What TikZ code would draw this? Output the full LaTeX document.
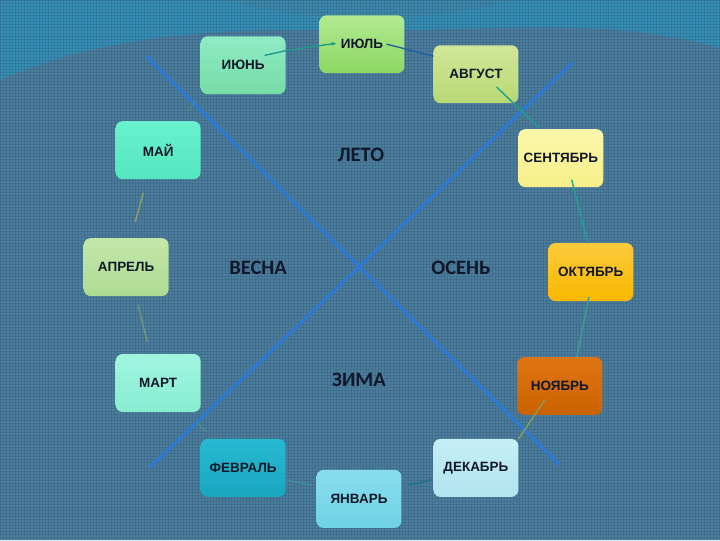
\documentclass[tikz,border=0pt]{standalone}
\usepackage{fontspec}
\newfontfamily\monthfont{Liberation Sans}
\newfontfamily\seasonfont{Carlito}
\usetikzlibrary{calc,arrows.meta}
\definecolor{bgblue}{HTML}{4B7D9E}
\definecolor{topband}{HTML}{2F93BD}
\definecolor{crossblue}{HTML}{2A7AD6}
\definecolor{textdark}{HTML}{10182A}
% month box colours (top / bottom)
\definecolor{junT}{HTML}{8FEBC6}\definecolor{junB}{HTML}{76DCA6}
\definecolor{julT}{HTML}{B2E992}\definecolor{julB}{HTML}{8CD862}
\definecolor{augT}{HTML}{D0E699}\definecolor{augB}{HTML}{B9D874}
\definecolor{sepT}{HTML}{FBF7AA}\definecolor{sepB}{HTML}{F7EE8A}
\definecolor{octT}{HTML}{FDCB3C}\definecolor{octB}{HTML}{F8B700}
\definecolor{novT}{HTML}{DF7412}\definecolor{novB}{HTML}{CB6200}
\definecolor{decT}{HTML}{C6EEF5}\definecolor{decB}{HTML}{B0E4EE}
\definecolor{janT}{HTML}{88DDED}\definecolor{janB}{HTML}{70D2E6}
\definecolor{febT}{HTML}{27B9D1}\definecolor{febB}{HTML}{19A7C0}
\definecolor{marT}{HTML}{A0F5DE}\definecolor{marB}{HTML}{88EDD1}
\definecolor{aprT}{HTML}{C3E7AA}\definecolor{aprB}{HTML}{AEDB93}
\definecolor{mayT}{HTML}{68F1CE}\definecolor{mayB}{HTML}{54E7BF}
% link colours
\definecolor{linkA}{HTML}{1F9C86}
\definecolor{linkB}{HTML}{2262A0}
\definecolor{linkC}{HTML}{1FA08A}
\definecolor{linkD}{HTML}{24A094}
\definecolor{linkE}{HTML}{3AA08E}
\definecolor{linkF}{HTML}{8A9A62}
\definecolor{linkG}{HTML}{1F6F8F}
\definecolor{linkH}{HTML}{3A9AA0}
\definecolor{linkI}{HTML}{4E9E7A}
\definecolor{linkJ}{HTML}{7AA070}
\definecolor{linkK}{HTML}{8EA060}
\definecolor{linkL}{HTML}{4EA080}
\begin{document}
\begin{tikzpicture}[x=1pt,y=-1pt,
    month/.style={rounded corners=7pt,minimum width=85pt,minimum height=58pt,inner sep=0pt,
        font=\monthfont\bfseries\fontsize{13.5}{15}\selectfont,text=textdark},
    season/.style={font=\seasonfont\bfseries\fontsize{20.5}{23}\selectfont,text=textdark},
    link/.style={line width=1.4pt,line cap=round},
    cross/.style={crossblue,line width=3pt}]

    % background
    \fill[bgblue] (0,0) rectangle (720,540);
    \fill[topband,opacity=0.75] (0,0) -- (720,0) -- (720,48) .. controls (610,14) and (470,32) .. (360,30)
        .. controls (240,28) and (110,30) .. (0,80) -- cycle;
    \fill[bgblue,opacity=0.35] (230,0) .. controls (300,24) and (430,24) .. (510,0) -- cycle;
    \foreach \x in {0,3,...,720}
        \draw[black,opacity=0.09,line width=0.6pt] (\x,0) -- (\x,540);
    \foreach \y in {0,3,...,540}
        \draw[black,opacity=0.09,line width=0.6pt] (0,\y) -- (720,\y);
    \useasboundingbox (0,0) rectangle (720,540);

    % the cross
    \draw[cross] (146,56) -- (560,465);
    \draw[cross] (573,62) -- (150,467);

    % months
    \node[month,top color=junT,bottom color=junB] (jun) at (243,65) {ИЮНЬ};
    \node[month,top color=julT,bottom color=julB] (jul) at (362,44) {ИЮЛЬ};
    \node[month,top color=augT,bottom color=augB] (aug) at (476,74) {АВГУСТ};
    \node[month,top color=sepT,bottom color=sepB] (sep) at (561,158) {СЕНТЯБРЬ};
    \node[month,top color=octT,bottom color=octB] (oct) at (591,272) {ОКТЯБРЬ};
    \node[month,top color=novT,bottom color=novB] (nov) at (560,386) {НОЯБРЬ};
    \node[month,top color=decT,bottom color=decB] (dec) at (476,468) {ДЕКАБРЬ};
    \node[month,top color=janT,bottom color=janB] (jan) at (359,499) {ЯНВАРЬ};
    \node[month,top color=febT,bottom color=febB] (feb) at (243,468) {ФЕВРАЛЬ};
    \node[month,top color=marT,bottom color=marB] (mar) at (158,383) {МАРТ};
    \node[month,top color=aprT,bottom color=aprB] (apr) at (126,267) {АПРЕЛЬ};
    \node[month,top color=mayT,bottom color=mayB] (may) at (158,150) {МАЙ};

    % seasons
    \node[season] (summer) at (361,155) {ЛЕТО};
    \node[season] (spring) at (258,268) {ВЕСНА};
    \node[season] (autumn) at (461,268) {ОСЕНЬ};
    \node[season] (winter) at (359,380) {ЗИМА};

    % links between months
    \draw[link,linkA,-{Stealth[length=5pt,width=4pt]}] ($(jun.center)+(22,-10)$) -- ($(jun.east)+(2,-15)$)
        -- ($(jul.west)+(17,-1)$);
    \draw[link,linkB] ($(jul.center)+(25,0)$) -- ($(aug.north west)+(0,11)$);
    \draw[link,linkC] ($(aug.center)+(21,13)$) -- ($(sep.north west)+(20,-2)$);
    \draw[link,linkD] ($(sep.center)+(11,22)$) -- ($(oct.north)+(-3,0)$);
    \draw[link,linkE] ($(oct.south)+(-2,-4)$) -- ($(nov.north)+(17,0)$);
    \draw[link,linkF] ($(nov.center)+(-15,14)$) -- (dec.north east);
    \draw[link,linkG] ($(dec.west)+(-2,12)$) -- ($(jan.east)+(8,-14)$);
    \draw[link,linkH,opacity=0.7] ($(jan.west)+(-5,-14)$) -- ($(feb.east)+(1,12)$);
    \draw[link,linkI,opacity=0.6] ($(feb.north west)+(5,-7)$) -- ($(mar.south east)+(-4,10)$);
    \draw[link,linkJ,opacity=0.8] ($(mar.north)+(-11,-12)$) -- ($(apr.south)+(12,9)$);
    \draw[link,linkK] ($(apr.north)+(9,-16)$) -- ($(may.south)+(-15,14)$);
    \draw[link,linkL,opacity=0.5] ($(may.north east)+(-13,-10)$) -- ($(jun.south west)+(-5,7)$);
\end{tikzpicture}
\end{document}
